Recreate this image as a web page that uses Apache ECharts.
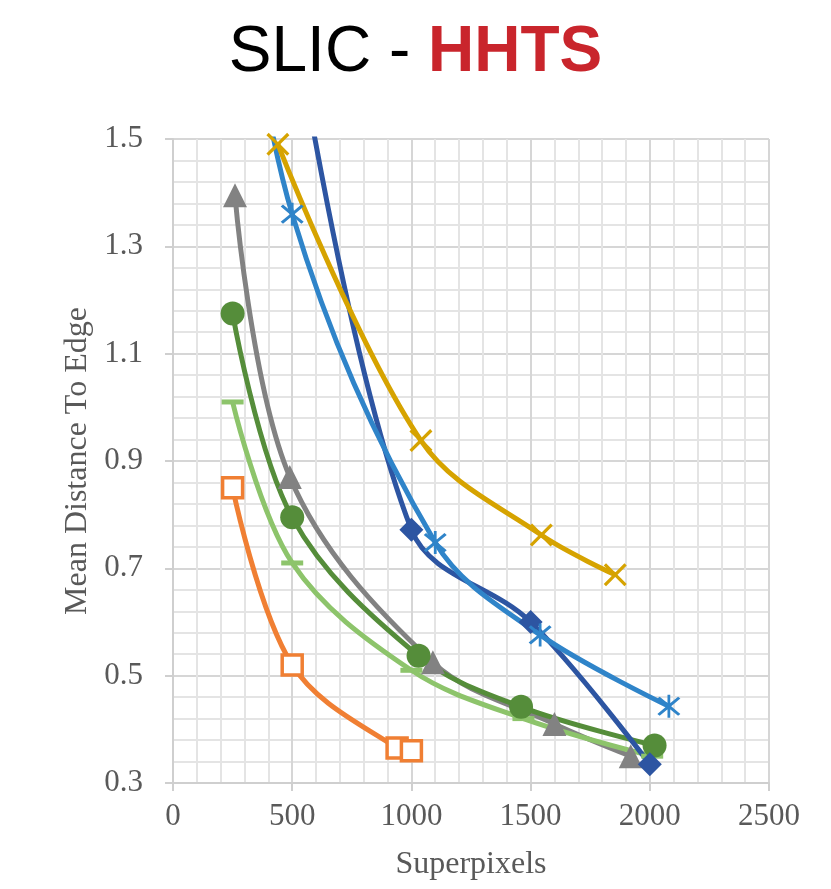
<!DOCTYPE html>
<html lang="en">
<head>
    <meta charset="UTF-8">
    <title>SLIC - HHTS</title>
    <script src="https://cdn.jsdelivr.net/npm/echarts@6.0.0/dist/echarts.min.js"></script>
    <style>
        html, body { margin: 0; padding: 0; background: #fff; }
    </style>
</head>
<body>
    <div id="main" style="width: 831px;height:889px;"></div>
    <script type="text/javascript">
        // values: [superpixels, mean distance to edge]
        const orangePts = [[250, 0.85], [500, 0.52], [940, 0.365], [1000, 0.36]];
        const lightGreenPts = [[250, 1.01], [500, 0.71], [1000, 0.51], [1470, 0.42], [2010, 0.35]];
        const darkGreenPts = [[250, 1.175], [500, 0.795], [1030, 0.537], [1460, 0.442], [2020, 0.37]];
        const grayPts = [[260, 1.395], [490, 0.87], [1090, 0.525], [1600, 0.41], [1920, 0.35]];
        const darkBluePts = [[500, 1.75], [1000, 0.772], [1500, 0.6], [2000, 0.335]];
        const bluePts = [[250, 2.0], [500, 1.36], [1100, 0.748], [1540, 0.576], [2080, 0.443]];
        const goldPts = [[440, 1.49], [1040, 0.938], [1545, 0.762], [1855, 0.688]];

        const xTicks = [0, 500, 1000, 1500, 2000, 2500];
        const yTicks = [0.3, 0.5, 0.7, 0.9, 1.1, 1.3, 1.5];

        const xMark = 'path://M0,1L1,0L5,4L9,0L10,1L6,5L10,9L9,10L5,6L1,10L0,9L4,5Z';
        const starMark = 'path://M0,1L1,0L5,4L9,0L10,1L6,5L10,9L9,10L5,6L1,10L0,9L4,5Z' +
            'M4.4,-1L5.6,-1L5.6,11L4.4,11Z';

        const myChart = echarts.init(document.getElementById('main'));

        function line(name, data, color, symbol, size, extra) {
            return Object.assign({
                name: name,
                type: 'line',
                data: data,
                smooth: 0.35,
                symbol: symbol,
                symbolSize: size,
                lineStyle: { color: color, width: 5 },
                itemStyle: { color: color },
                emphasis: { disabled: true },
                clip: true
            }, extra || {});
        }

        const serif = '"Liberation Serif", "DejaVu Serif", serif';
        const sans = '"Liberation Sans", Arial, sans-serif';

        const option = {
            animation: false,
            title: {
                text: '{a|SLIC - }{b|HHTS}',
                left: 'center',
                top: 16,
                textStyle: {
                    fontWeight: 'normal',
                    rich: {
                        a: { fontFamily: sans, fontSize: 64, color: '#000', fontWeight: 'normal' },
                        b: { fontFamily: sans, fontSize: 64, color: '#C9252C', fontWeight: 'bold' }
                    }
                }
            },
            grid: {
                left: 173,
                right: 62,
                top: 139,
                bottom: 106,
                containLabel: false,
                outerBoundsMode: 'none'
            },
            xAxis: {
                type: 'value',
                min: xTicks[0],
                max: xTicks[xTicks.length - 1],
                interval: 500,
                name: 'Superpixels',
                nameLocation: 'middle',
                nameGap: 66,
                nameTextStyle: { fontFamily: serif, fontSize: 32, color: '#595959' },
                axisLine: { show: true, lineStyle: { color: '#cfcfcf', width: 2 } },
                axisTick: { show: true, length: 8, lineStyle: { color: '#cfcfcf', width: 2 } },
                axisLabel: {
                    fontFamily: serif, fontSize: 31, color: '#595959', margin: 18,
                    formatter: v => String(v)
                },
                splitLine: { show: true, lineStyle: { color: '#d6d6d6', width: 2 } },
                minorTick: { show: false, splitNumber: 5 },
                minorSplitLine: { show: true, lineStyle: { color: '#e4e4e4', width: 2 } }
            },
            yAxis: {
                type: 'value',
                min: yTicks[0],
                max: yTicks[yTicks.length - 1],
                interval: 0.2,
                name: 'Mean Distance To Edge',
                nameLocation: 'middle',
                nameGap: 74,
                nameTextStyle: { fontFamily: serif, fontSize: 32, color: '#595959' },
                axisLine: { show: true, lineStyle: { color: '#cfcfcf', width: 2 } },
                axisTick: { show: true, length: 8, lineStyle: { color: '#cfcfcf', width: 2 } },
                axisLabel: {
                    fontFamily: serif, fontSize: 31, color: '#595959', margin: 30,
                    formatter: v => v.toFixed(1)
                },
                splitLine: { show: true, lineStyle: { color: '#d6d6d6', width: 2 } },
                minorTick: { show: false, splitNumber: 5 },
                minorSplitLine: { show: true, lineStyle: { color: '#e4e4e4', width: 2 } }
            },
            series: [
                line('gray', grayPts, '#828282', 'triangle', 24),
                line('light green', lightGreenPts, '#8DC46B', 'rect', [22, 5]),
                line('dark green', darkGreenPts, '#558D3A', 'circle', 24),
                line('orange', orangePts, '#F07F33', 'rect', 20, {
                    itemStyle: { color: '#fff', borderColor: '#F07F33', borderWidth: 3.5 }
                }),
                line('dark blue', darkBluePts, '#2D55A2', 'diamond', 24),
                line('blue', bluePts, '#2F84C9', starMark, 23),
                line('gold', goldPts, '#D6A300', xMark, 23)
            ]
        };

        myChart.setOption(option);
    </script>
</body>
</html>
